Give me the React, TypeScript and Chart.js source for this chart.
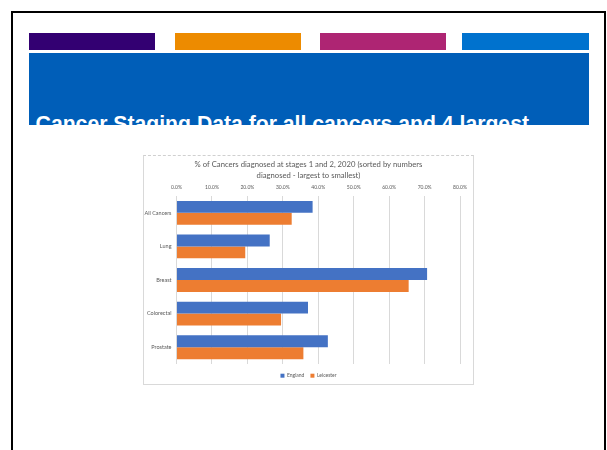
import React, { useEffect, useRef } from "react";
import { Chart, registerables } from "chart.js";

Chart.register(...registerables);

const categories = ["All Cancers", "Lung", "Breast", "Colorectal", "Prostate"];
const englandValues = [38.4, 26.3, 70.7, 37.1, 42.7];
const leicesterValues = [32.5, 19.4, 65.5, 29.5, 35.8];
const tickLabels = ["0.0%", "10.0%", "20.0%", "30.0%", "40.0%", "50.0%", "60.0%", "70.0%", "80.0%"];
const seriesNames = ["England", "Leicester"];
const chartTitle = [
  "% of Cancers diagnosed at stages 1 and 2, 2020 (sorted by numbers",
  "diagnosed - largest to smallest)",
];
const slideTitle = "Cancer Staging Data for all cancers and 4 largest";

const FONT = "Lato, 'Open Sans', sans-serif";
const GREY = "#595959";

export default function App() {
  const canvasRef = useRef<HTMLCanvasElement | null>(null);

  useEffect(() => {
    const canvas = canvasRef.current;
    if (!canvas) return;
    const chart = new Chart(canvas, {
      type: "bar",
      data: {
        labels: categories,
        datasets: [
          {
            label: seriesNames[0],
            data: englandValues,
            backgroundColor: "#4472C4",
            categoryPercentage: 0.71,
            barPercentage: 1,
          },
          {
            label: seriesNames[1],
            data: leicesterValues,
            backgroundColor: "#ED7D31",
            categoryPercentage: 0.71,
            barPercentage: 1,
          },
        ],
      },
      options: {
        indexAxis: "y",
        responsive: false,
        animation: false,
        devicePixelRatio: 1,
        layout: { padding: 0 },
        plugins: {
          title: {
            display: true,
            text: chartTitle,
            color: GREY,
            font: { family: FONT, size: 7.7, weight: "normal", lineHeight: 1.38 },
            padding: { top: 3.4, bottom: 2 },
          },
          legend: {
            position: "bottom",
            maxHeight: 20,
            title: { display: true, text: "", font: { size: 1, lineHeight: 1 }, padding: { top: 2.2, bottom: 0 } },
            labels: {
              boxWidth: 4,
              boxHeight: 4,
              padding: 6,
              color: GREY,
              font: { family: FONT, size: 5 },
            },
          },
          tooltip: { enabled: false },
        },
        scales: {
          x: {
            position: "top",
            min: 0,
            max: 80,
            ticks: {
              stepSize: 10,
              color: GREY,
              padding: 6,
              font: { family: FONT, size: 5 },
              callback: (_v: any, i: number) => tickLabels[i],
            },
            grid: { color: "#d9d9d9", drawTicks: false, lineWidth: 1 },
            border: { display: false },
            afterFit: (s: any) => {
              s.height = 13.4;
            },
          },
          y: {
            ticks: { color: GREY, padding: 5, font: { family: FONT, size: 5.5 } },
            grid: { display: false, drawTicks: false },
            border: { display: false },
            afterFit: (s: any) => {
              s.width = 32.5;
            },
          },
          yRight: {
            axis: "y",
            type: "category",
            position: "right",
            ticks: { display: false },
            grid: { display: false, drawTicks: false },
            border: { display: false },
            afterFit: (s: any) => {
              s.width = 12.5;
            },
          },
        },
      },
    });
    return () => chart.destroy();
  }, []);

  return (
    <div
      style={{
        position: "fixed",
        left: 0,
        top: 0,
        width: 607,
        height: 450,
        overflow: "hidden",
        background: "#fff",
      }}
    >
      <div
        style={{
          position: "absolute",
          left: 11,
          top: 11,
          width: 595,
          height: 470,
          border: "2px solid #000",
          boxSizing: "border-box",
        }}
      />
      <div style={{ position: "absolute", left: 29, top: 33, width: 126, height: 17, background: "#330072" }} />
      <div style={{ position: "absolute", left: 175, top: 33, width: 126, height: 17, background: "#ED8B00" }} />
      <div style={{ position: "absolute", left: 320, top: 33, width: 126, height: 17, background: "#AE2573" }} />
      <div style={{ position: "absolute", left: 462, top: 33, width: 127, height: 17, background: "#0072CE" }} />
      <div
        style={{
          position: "absolute",
          left: 29,
          top: 53,
          width: 560,
          height: 72,
          background: "#005EB8",
          overflow: "hidden",
        }}
      >
        <div
          style={{
            position: "absolute",
            left: 6.6,
            top: 60.4,
            color: "#fff",
            fontFamily: "'Liberation Sans', Arial, sans-serif",
            fontWeight: "bold",
            fontSize: 21.2,
            lineHeight: 1,
            whiteSpace: "nowrap",
          }}
        >
          {slideTitle}
        </div>
      </div>
      <div
        style={{
          position: "absolute",
          left: 143,
          top: 155,
          width: 331,
          height: 230,
          border: "1px solid #d9d9d9",
          borderTop: "1px dashed #d0d0d0",
          boxSizing: "border-box",
          background: "#fff",
        }}
      >
        <canvas ref={canvasRef} width={329} height={228} style={{ display: "block", width: 329, height: 228 }} />
      </div>
    </div>
  );
}
